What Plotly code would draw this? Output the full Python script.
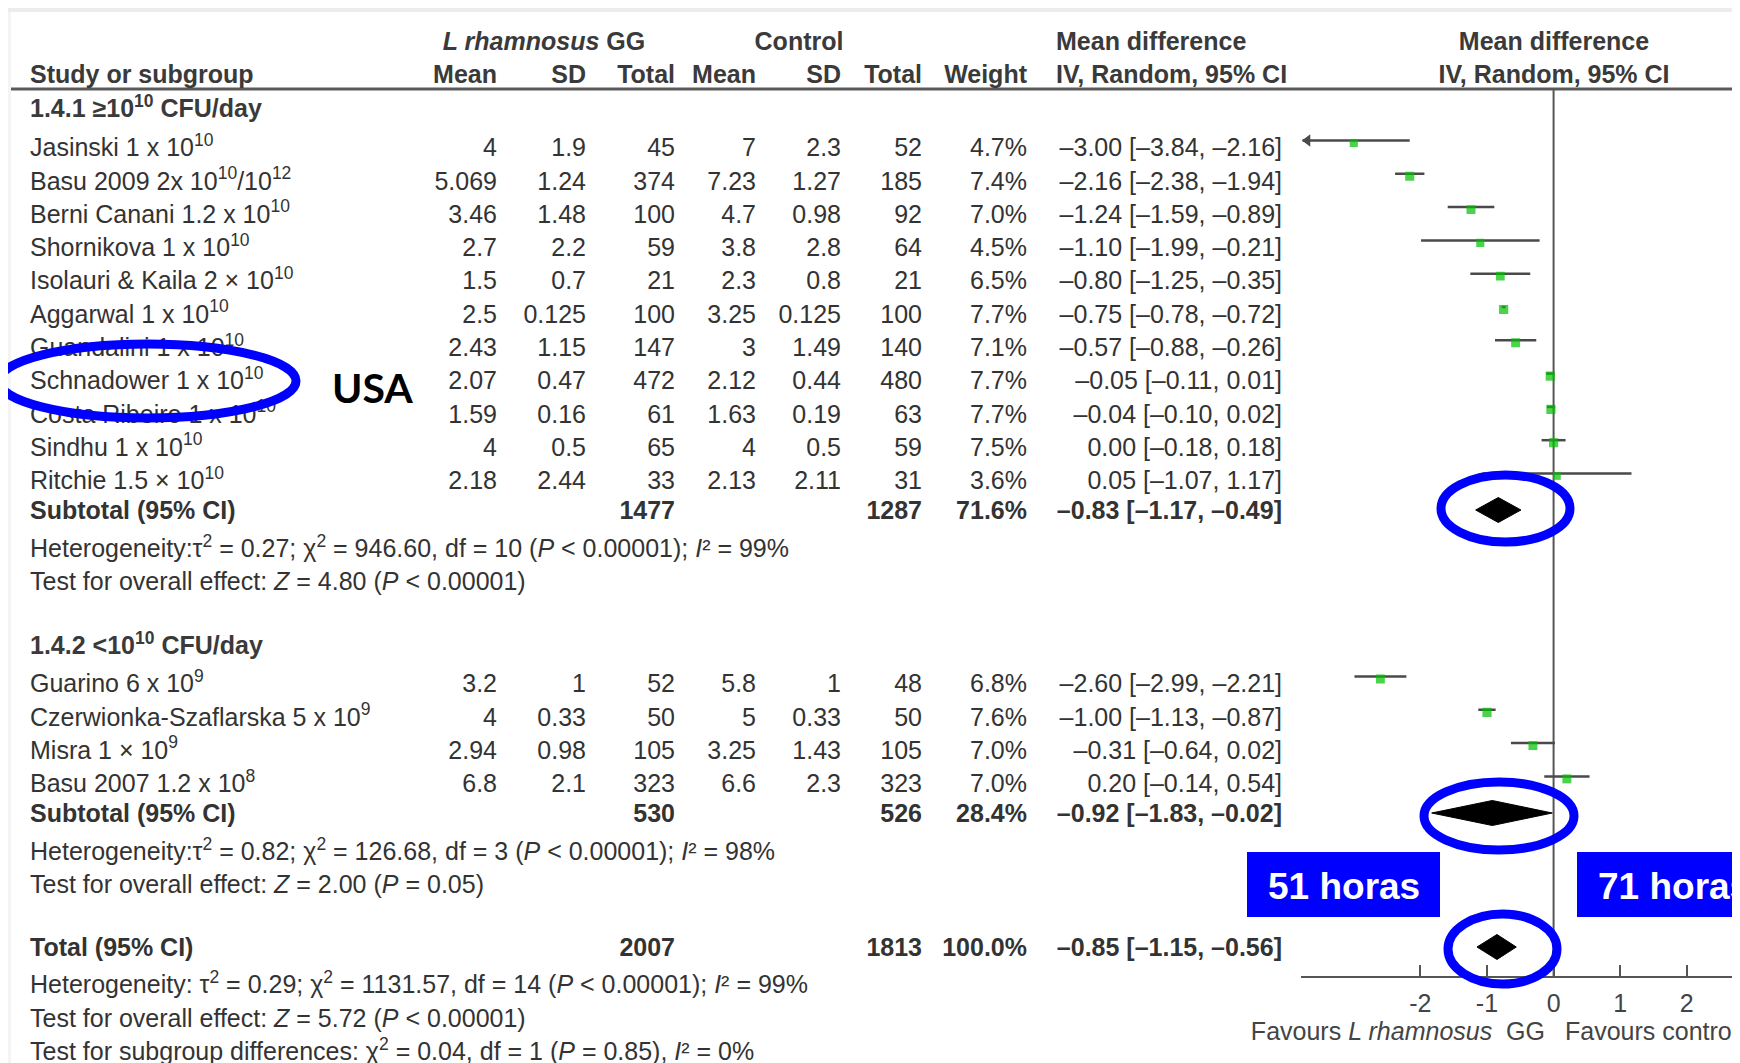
import plotly.graph_objects as go

W, H = 1740, 1063

# ------------------------------------------------------------------ data
g1_title = "1.4.1 ≥10<sup>10</sup> CFU/day"
g1_names = ["Jasinski 1 x 10<sup>10</sup>",
            "Basu 2009 2x 10<sup>10</sup>/10<sup>12</sup>",
            "Berni Canani 1.2 x 10<sup>10</sup>",
            "Shornikova 1 x 10<sup>10</sup>",
            "Isolauri & Kaila 2 × 10<sup>10</sup>",
            "Aggarwal 1 x 10<sup>10</sup>",
            "Guandalini 1 x 10<sup>10</sup>",
            "Schnadower 1 x 10<sup>10</sup>",
            "Costa Ribeiro 1 x 10<sup>10</sup>",
            "Sindhu 1 x 10<sup>10</sup>",
            "Ritchie 1.5 × 10<sup>10</sup>"]
g1_lgg_mean = [4, 5.069, 3.46, 2.7, 1.5, 2.5, 2.43, 2.07, 1.59, 4, 2.18]
g1_lgg_sd = [1.9, 1.24, 1.48, 2.2, 0.7, 0.125, 1.15, 0.47, 0.16, 0.5, 2.44]
g1_lgg_n = [45, 374, 100, 59, 21, 100, 147, 472, 61, 65, 33]
g1_ctl_mean = [7, 7.23, 4.7, 3.8, 2.3, 3.25, 3, 2.12, 1.63, 4, 2.13]
g1_ctl_sd = [2.3, 1.27, 0.98, 2.8, 0.8, 0.125, 1.49, 0.44, 0.19, 0.5, 2.11]
g1_ctl_n = [52, 185, 92, 64, 21, 100, 140, 480, 63, 59, 31]
g1_weight = [4.7, 7.4, 7.0, 4.5, 6.5, 7.7, 7.1, 7.7, 7.7, 7.5, 3.6]
g1_md = [-3.00, -2.16, -1.24, -1.10, -0.80, -0.75, -0.57, -0.05, -0.04, 0.00, 0.05]
g1_lo = [-3.84, -2.38, -1.59, -1.99, -1.25, -0.78, -0.88, -0.11, -0.10, -0.18, -1.07]
g1_hi = [-2.16, -1.94, -0.89, -0.21, -0.35, -0.72, -0.26, 0.01, 0.02, 0.18, 1.17]

g2_title = "1.4.2 &lt;10<sup>10</sup> CFU/day"
g2_names = ["Guarino 6 x 10<sup>9</sup>",
            "Czerwionka-Szaflarska 5 x 10<sup>9</sup>",
            "Misra 1 × 10<sup>9</sup>",
            "Basu 2007 1.2 x 10<sup>8</sup>"]
g2_lgg_mean = [3.2, 4, 2.94, 6.8]
g2_lgg_sd = [1, 0.33, 0.98, 2.1]
g2_lgg_n = [52, 50, 105, 323]
g2_ctl_mean = [5.8, 5, 3.25, 6.6]
g2_ctl_sd = [1, 0.33, 1.43, 2.3]
g2_ctl_n = [48, 50, 105, 323]
g2_weight = [6.8, 7.6, 7.0, 7.0]
g2_md = [-2.60, -1.00, -0.31, 0.20]
g2_lo = [-2.99, -1.13, -0.64, -0.14]
g2_hi = [-2.21, -0.87, 0.02, 0.54]

sum_names = ["Subtotal (95% CI)", "Subtotal (95% CI)", "Total (95% CI)"]
sum_lgg_n = [1477, 530, 2007]
sum_ctl_n = [1287, 526, 1813]
sum_weight = [71.6, 28.4, 100.0]
sum_md = [-0.83, -0.92, -0.85]
sum_lo = [-1.17, -1.83, -1.15]
sum_hi = [-0.49, -0.02, -0.56]

g1_notes = ["Heterogeneity:τ<sup>2</sup> = 0.27; χ<sup>2</sup> = 946.60, df = 10 (<i>P</i> &lt; 0.00001); <i>I</i>² = 99%",
            "Test for overall effect: <i>Z</i> = 4.80 (<i>P</i> &lt; 0.00001)"]
g2_notes = ["Heterogeneity:τ<sup>2</sup> = 0.82; χ<sup>2</sup> = 126.68, df = 3 (<i>P</i> &lt; 0.00001); <i>I</i>² = 98%",
            "Test for overall effect: <i>Z</i> = 2.00 (<i>P</i> = 0.05)"]
tot_notes = ["Heterogeneity: τ<sup>2</sup> = 0.29; χ<sup>2</sup> = 1131.57, df = 14 (<i>P</i> &lt; 0.00001); <i>I</i>² = 99%",
             "Test for overall effect: <i>Z</i> = 5.72 (<i>P</i> &lt; 0.00001)",
             "Test for subgroup differences: χ<sup>2</sup> = 0.04, df = 1 (<i>P</i> = 0.85), <i>I</i>² = 0%"]

tick_vals = [-2, -1, 0, 1, 2]
tick_text = ["-2", "-1", "0", "1", "2"]
favours_left = "Favours <i>L rhamnosus</i>  GG"
favours_right = "Favours control"
callouts = ["USA", "51 horas", "71 horas"]

# ------------------------------------------------------------------ layout (screen pixel positions)
OFF = 8            # page body margin: the figure is drawn 8px right/down of the window corner
TDY = 3            # text baseline correction
FONT = "Liberation Sans, Arial, sans-serif"
FS = 25
TXT = "#333333"
HDR = "#3a3a3a"

Y_H1, Y_H2, Y_LINE = 41, 74, 89
Y_G1T = 108
G1_Y0, STEP = 147, 33.3
Y_SUB1, Y_G1N = 510, [548, 581]
Y_G2T = 645
G2_Y0, STEP2 = 683, 33.3
Y_SUB2, Y_G2N = 813, [851, 884]
Y_TOT, Y_TOTN = 947, [984, 1018, 1051]
Y_AXIS = 977
Y_FAV = 1031

X_NAME = 30
COLS = [497, 586, 675, 756, 841, 922, 1027, 1282]   # right edges
X_MDH = 1056
X_PLOT0, XMIN, PX_UNIT = 1300.5, -3.8, 66.6
XMAX = XMIN + (W + OFF - X_PLOT0) / PX_UNIT
LINE_DY, SQ_DY = -6.5, -4

g1_y = [G1_Y0 + i * STEP for i in range(len(g1_names))]
g2_y = [G2_Y0 + i * STEP2 for i in range(len(g2_names))]
sum_y = [Y_SUB1, Y_SUB2, Y_TOT]


def num(v):
    return f"{v:g}"


def ci(m, l, h):
    return f"{m:.2f} [{l:.2f}, {h:.2f}]".replace("-", "–")


fig = go.Figure()


def text_trace(xs, ys, texts, pos, size=FS, color=TXT):
    fig.add_trace(go.Scatter(x=xs, y=[y + TDY for y in ys], text=texts, mode="text", xaxis="x2", yaxis="y",
                             textposition=pos, hoverinfo="skip", showlegend=False,
                             textfont=dict(family=FONT, size=size, color=color)))


# headers
text_trace([544, 799], [Y_H1, Y_H1], ["<b><i>L rhamnosus</i> GG</b>", "<b>Control</b>"], "middle center", color=HDR)
text_trace([X_MDH, X_MDH], [Y_H1, Y_H2], ["<b>Mean difference</b>", "<b>IV, Random, 95% CI</b>"], "middle right", color=HDR)
text_trace([1554, 1554], [Y_H1, Y_H2], ["<b>Mean difference</b>", "<b>IV, Random, 95% CI</b>"], "middle center", color=HDR)
text_trace([X_NAME], [Y_H2], ["<b>Study or subgroup</b>"], "middle right", color=HDR)
text_trace(COLS[:7], [Y_H2] * 7, ["<b>%s</b>" % s for s in ["Mean", "SD", "Total", "Mean", "SD", "Total", "Weight"]],
           "middle left", color=HDR)

# group titles
text_trace([X_NAME, X_NAME], [Y_G1T, Y_G2T], ["<b>%s</b>" % g1_title, "<b>%s</b>" % g2_title], "middle right", color=HDR)

# study rows
names = g1_names + g2_names
rows_y = g1_y + g2_y
lm = g1_lgg_mean + g2_lgg_mean
ls = g1_lgg_sd + g2_lgg_sd
ln = g1_lgg_n + g2_lgg_n
cm = g1_ctl_mean + g2_ctl_mean
cs = g1_ctl_sd + g2_ctl_sd
cn = g1_ctl_n + g2_ctl_n
wt = g1_weight + g2_weight
md = g1_md + g2_md
lo = g1_lo + g2_lo
hi = g1_hi + g2_hi

text_trace([X_NAME] * len(names), rows_y, names, "middle right")
for col, vals in zip(COLS[:6], [lm, ls, ln, cm, cs, cn]):
    text_trace([col] * len(vals), rows_y, [num(v) for v in vals], "middle left")
text_trace([COLS[6]] * len(wt), rows_y, [f"{w:.1f}%" for w in wt], "middle left")
text_trace([COLS[7]] * len(md), rows_y, [ci(a, b, c) for a, b, c in zip(md, lo, hi)], "middle left")

# summary rows
text_trace([X_NAME] * 3, sum_y, ["<b>%s</b>" % s for s in sum_names], "middle right")
text_trace([COLS[2]] * 3, sum_y, ["<b>%d</b>" % v for v in sum_lgg_n], "middle left")
text_trace([COLS[5]] * 3, sum_y, ["<b>%d</b>" % v for v in sum_ctl_n], "middle left")
text_trace([COLS[6]] * 3, sum_y, ["<b>%.1f%%</b>" % v for v in sum_weight], "middle left")
text_trace([COLS[7]] * 3, sum_y, ["<b>%s</b>" % ci(a, b, c) for a, b, c in zip(sum_md, sum_lo, sum_hi)],
           "middle left")

# notes
text_trace([X_NAME] * 7, Y_G1N + Y_G2N + Y_TOTN, g1_notes + g2_notes + tot_notes, "middle right")

# favours labels
text_trace([1545, 1565], [Y_FAV, Y_FAV], [favours_left, favours_right], ["middle left", "middle right"],
           color="#444444")

# ------------------------------------------------------------------ forest marks
clip = XMIN + 0.03
seg_x, seg_y, arr_x, arr_y = [], [], [], []
for l, h, y in zip(lo, hi, rows_y):
    seg_x += [max(l, clip), h, None]
    seg_y += [y + LINE_DY, y + LINE_DY, None]
    if l < clip:
        arr_x.append(clip + 0.075)
        arr_y.append(y + LINE_DY)
fig.add_trace(go.Scatter(x=seg_x, y=seg_y, mode="lines", xaxis="x", yaxis="y", hoverinfo="skip",
                         line=dict(color="#4a4a4a", width=2.5), showlegend=False))
fig.add_trace(go.Scatter(x=arr_x, y=arr_y, mode="markers", xaxis="x", yaxis="y", hoverinfo="skip",
                         marker=dict(symbol="triangle-left", size=11, color="#4a4a4a"), showlegend=False))
fig.add_trace(go.Scatter(x=md, y=[y + SQ_DY for y in rows_y], mode="markers", xaxis="x", yaxis="y",
                         hoverinfo="skip", showlegend=False,
                         marker=dict(symbol="square", color="#00c000", size=[6.5 + 0.35 * w for w in wt],
                                     line=dict(width=0))))
DH = 12.5
for m, l, h, y in zip(sum_md, sum_lo, sum_hi, sum_y):
    fig.add_trace(go.Scatter(x=[l, m, h, m, l], y=[y, y - DH, y, y + DH, y], mode="lines", fill="toself",
                             fillcolor="#000000", line=dict(color="#000000", width=1), xaxis="x", yaxis="y",
                             hoverinfo="skip", showlegend=False))

# ------------------------------------------------------------------ shapes / overlays
shapes = [
    dict(type="rect", xref="x2", yref="y", x0=OFF, x1=W + OFF, y0=OFF, y1=12,
         fillcolor="#ececec", line_width=0, layer="below"),
    dict(type="rect", xref="x2", yref="y", x0=OFF, x1=11, y0=12, y1=H + OFF,
         fillcolor="#f4f4f4", line_width=0, layer="below"),
    dict(type="line", xref="x2", yref="y", x0=11, x1=W + OFF, y0=Y_LINE, y1=Y_LINE,
         line=dict(color="#5a5a5a", width=3), layer="below"),
    dict(type="line", xref="x", yref="y", x0=0, x1=0, y0=Y_LINE, y1=Y_AXIS,
         line=dict(color="#555555", width=2), layer="below"),
]
BLUE = "#0000ff"
for (x0, x1, y0, y1) in [(-1, 296, 344, 418), (1441, 1570, 475, 542), (1424, 1574, 782, 850),
                         (1448, 1557, 914, 984)]:
    shapes.append(dict(type="circle", xref="x2", yref="y", x0=x0, x1=x1, y0=y0, y1=y1,
                       line=dict(color=BLUE, width=9), fillcolor="rgba(0,0,0,0)", layer="above"))
for (x0, x1) in [(1247, 1440), (1577, 1760)]:
    shapes.append(dict(type="rect", xref="x2", yref="y", x0=x0, x1=x1, y0=852, y1=917,
                       fillcolor=BLUE, line_width=0, layer="above"))

annotations = [
    dict(x=330, y=387, xref="x2", yref="y", text="<b>%s</b>" % callouts[0], showarrow=False,
         xanchor="left", yanchor="middle", font=dict(family="Lato, Open Sans, sans-serif", size=41, color="#000")),
    dict(x=1343.5, y=886, xref="x2", yref="y", text="<b>%s</b>" % callouts[1], showarrow=False,
         xanchor="center", yanchor="middle", font=dict(family="Liberation Sans, Arial", size=37, color="#fff")),
    dict(x=1596, y=886, xref="x2", yref="y", text="<b>%s</b>" % callouts[2], showarrow=False,
         xanchor="left", yanchor="middle", font=dict(family="Liberation Sans, Arial", size=37, color="#fff")),
]

fig.update_layout(
    width=W, height=H, margin=dict(l=0, r=0, t=0, b=0),
    paper_bgcolor="white", plot_bgcolor="rgba(0,0,0,0)", showlegend=False,
    shapes=shapes, annotations=annotations,
    xaxis=dict(domain=[(X_PLOT0 - OFF) / W, 1], range=[XMIN, XMAX], anchor="free",
               position=(H - (Y_AXIS - OFF)) / H,
               showline=True, linecolor="#555555", linewidth=2, ticks="inside", ticklen=11, tickwidth=2,
               tickcolor="#555555", tickvals=tick_vals, ticktext=tick_text, showgrid=False, zeroline=False,
               tickfont=dict(family=FONT, size=FS, color="#444444"), ticklabelstandoff=4, fixedrange=True),
    xaxis2=dict(domain=[0, 1], range=[OFF, W + OFF], anchor="y", visible=False, fixedrange=True),
    yaxis=dict(domain=[0, 1], range=[H + OFF, OFF], visible=False, fixedrange=True),
)

fig.write_html("out.html")
